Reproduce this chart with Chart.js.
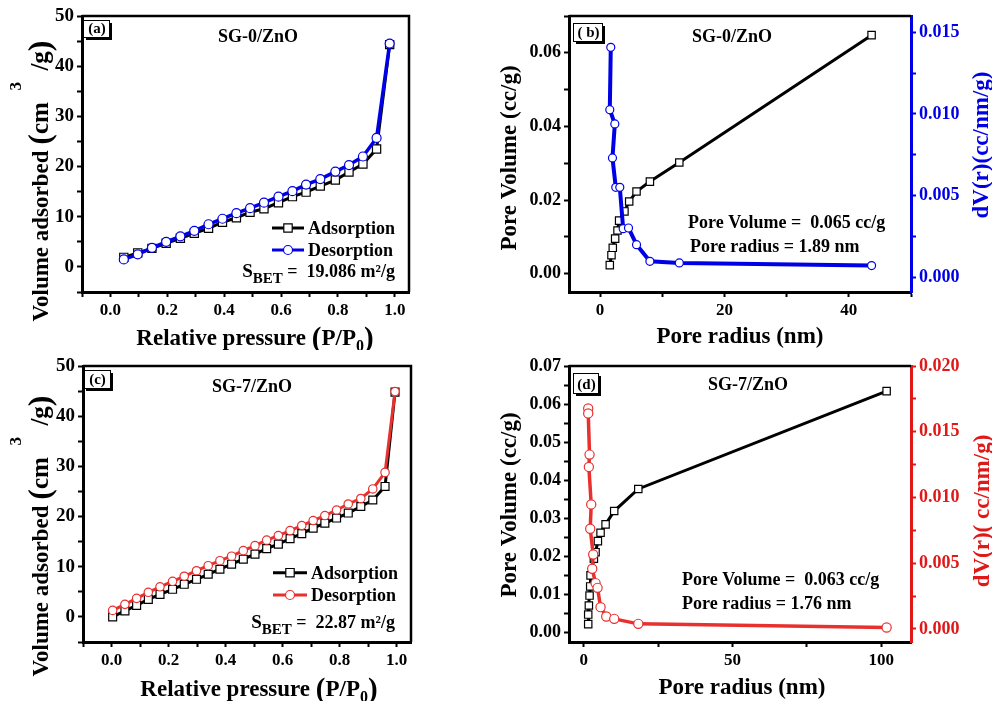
<!DOCTYPE html>
<html>
<head>
<meta charset="utf-8">
<script src="https://cdn.jsdelivr.net/npm/chart.js@4.4.1/dist/chart.umd.min.js"></script>
<style>
  body { margin: 0; background: #fff; }
  #page { position: relative; width: 992px; height: 701px; overflow: hidden; }
  canvas { position: absolute; }
</style>
</head>
<body>
<div id="page">
  <canvas id="chart-a" width="496" height="350" style="left:0px;top:0px"></canvas>
  <canvas id="chart-b" width="496" height="350" style="left:496px;top:0px"></canvas>
  <canvas id="chart-c" width="496" height="351" style="left:0px;top:350px"></canvas>
  <canvas id="chart-d" width="496" height="351" style="left:496px;top:350px"></canvas>
</div>
<script>
// panel a : SG-0/ZnO isotherm
var pressA = [0.047, 0.096, 0.146, 0.196, 0.246, 0.295, 0.345, 0.394, 0.443, 0.491, 0.540, 0.591, 0.640, 0.688, 0.738, 0.791, 0.839, 0.888, 0.936, 0.982];
var adsA = [1.9, 2.8, 3.7, 4.7, 5.7, 6.7, 7.7, 8.9, 9.8, 10.9, 11.6, 12.8, 14.0, 14.9, 16.1, 17.3, 18.9, 20.5, 23.5, 44.3];
var desA = [1.5, 2.5, 3.8, 5.0, 6.1, 7.2, 8.5, 9.6, 10.7, 11.7, 12.8, 14.0, 15.1, 16.4, 17.5, 19.0, 20.3, 22.0, 25.7, 44.5];

// panel b : SG-0/ZnO pore size
var radiusVolB = [1.56, 1.83, 2.04, 2.42, 2.80, 3.06, 3.92, 4.68, 5.86, 8.01, 12.74, 43.66];
var poreVolB = [0.0023, 0.0050, 0.0070, 0.0095, 0.0117, 0.0144, 0.0169, 0.0196, 0.0223, 0.0250, 0.0302, 0.0648];
var radiusDvB = [1.72, 1.56, 2.37, 1.99, 2.52, 3.17, 3.71, 4.57, 5.86, 8.01, 12.74, 43.66];
var dvB = [0.01408, 0.01026, 0.00939, 0.00731, 0.00551, 0.00551, 0.00298, 0.00302, 0.00200, 0.00098, 0.00088, 0.00072];

// panel c : SG-7/ZnO isotherm
var pressC = [0.004, 0.047, 0.088, 0.129, 0.170, 0.214, 0.255, 0.298, 0.339, 0.380, 0.421, 0.462, 0.503, 0.544, 0.585, 0.626, 0.667, 0.707, 0.748, 0.789, 0.830, 0.874, 0.916, 0.959, 0.994];
var adsC = [0.0, 1.2, 2.3, 3.5, 4.5, 5.5, 6.5, 7.5, 8.5, 9.5, 10.5, 11.5, 12.5, 13.6, 14.5, 15.6, 16.6, 17.7, 18.7, 19.7, 20.7, 22.0, 23.3, 26.0, 44.8];
var desC = [1.3, 2.5, 3.7, 4.9, 6.0, 7.1, 8.1, 9.2, 10.2, 11.2, 12.1, 13.2, 14.2, 15.3, 16.2, 17.2, 18.2, 19.2, 20.2, 21.3, 22.5, 23.6, 25.5, 28.8, 44.9];

// panel d : SG-7/ZnO pore size
var radiusVolD = [1.46, 1.46, 1.68, 1.91, 2.13, 2.24, 3.37, 3.93, 4.71, 5.61, 7.30, 10.2, 18.3, 101.8];
var poreVolD = [0.0022, 0.0047, 0.0071, 0.0097, 0.0121, 0.0150, 0.0194, 0.0211, 0.0240, 0.0262, 0.0284, 0.0319, 0.0377, 0.0634];
var radiusDvD = [1.46, 1.46, 1.91, 1.68, 2.47, 2.13, 3.14, 2.80, 3.93, 4.60, 5.61, 7.52, 10.2, 18.3, 101.8];
var dvD = [0.01677, 0.01639, 0.01326, 0.01232, 0.00947, 0.00762, 0.00566, 0.00457, 0.00348, 0.00312, 0.00165, 0.00094, 0.00076, 0.00038, 0.00010];

// tick labels
var pressureTicks = [0, 0.2, 0.4, 0.6, 0.8, 1.0];
var volumeTicks = [0, 10, 20, 30, 40, 50];
var radiusTicksB = [0, 20, 40];
var poreVolTicksB = [0, 0.02, 0.04, 0.06];
var dvTicksB = [0, 0.005, 0.010, 0.015];
var radiusTicksD = [0, 50, 100];
var poreVolTicksD = [0, 0.01, 0.02, 0.03, 0.04, 0.05, 0.06, 0.07];
var dvTicksD = [0, 0.005, 0.010, 0.015, 0.020];

var serif = '"Liberation Serif", "Times New Roman", serif';
var BLUE = '#0000e6';
var RED = '#e8312f';
var RED_TXT = '#e01818';

function pts(xs, ys) {
    return xs.map(function (x, i) { return { x: x, y: ys[i] }; });
}

function tickLabels(list, digits) {
    return function (v) {
        for (var i = 0; i < list.length; i++) {
            if (Math.abs(v - list[i]) < 1e-7) return list[i].toFixed(digits);
        }
        return '';
    };
}

function axis(pos, min, max, step, labels, digits, size, color, fontSize) {
    return {
        type: 'linear',
        position: pos,
        min: min,
        max: max,
        ticks: {
            stepSize: step, autoSkip: false, maxRotation: 0, includeBounds: false, padding: 3,
            color: color, font: { family: serif, size: fontSize || 18, weight: 'bold' },
            callback: tickLabels(labels, digits)
        },
        grid: { drawOnChartArea: false, drawTicks: true, tickLength: 5, tickWidth: 2, tickColor: color },
        border: { display: true, color: color, width: 3 },
        afterFit: function (s) {
            if (s.isHorizontal()) s.height = size; else s.width = size;
        }
    };
}

function lineSet(data, color, shape, radius, width, order, axisId) {
    return {
        data: data, showLine: true, borderColor: color, borderWidth: width, tension: 0,
        pointStyle: shape, pointRadius: radius, pointHoverRadius: radius,
        pointBackgroundColor: '#fff', pointBorderColor: shape === 'rect' ? '#000' : color,
        pointBorderWidth: 1.2, order: order, yAxisID: axisId || 'y'
    };
}

function drawParts(ctx, parts, x, y, align, color) {
    var total = 0;
    parts.forEach(function (p) {
        ctx.font = 'bold ' + p[1] + 'px ' + serif;
        total += ctx.measureText(p[0]).width;
    });
    var cx = align === 'center' ? x - total / 2 : (align === 'right' ? x - total : x);
    ctx.textAlign = 'left';
    ctx.textBaseline = 'alphabetic';
    ctx.fillStyle = color || '#000';
    parts.forEach(function (p) {
        ctx.font = 'bold ' + p[1] + 'px ' + serif;
        ctx.fillText(p[0], cx, y + (p[2] || 0));
        cx += ctx.measureText(p[0]).width;
    });
}

function drawRotated(ctx, parts, bx, cy, color) {
    ctx.save();
    ctx.translate(bx, cy);
    ctx.rotate(-Math.PI / 2);
    drawParts(ctx, parts, 0, 0, 'center', color);
    ctx.restore();
}

function marker(ctx, shape, x, y, s, color) {
    ctx.fillStyle = '#fff';
    ctx.strokeStyle = shape === 'rect' ? '#000' : color;
    ctx.lineWidth = 1.2;
    ctx.beginPath();
    if (shape === 'rect') ctx.rect(x - s, y - s, 2 * s, 2 * s);
    else ctx.arc(x, y, s, 0, 2 * Math.PI);
    ctx.fill();
    ctx.stroke();
}

function drawTag(ctx, t) {
    ctx.fillStyle = '#000';
    ctx.fillRect(t.x + t.w, t.y + 3, 3, t.h);
    ctx.fillRect(t.x + 3, t.y + t.h, t.w, 3);
    ctx.strokeStyle = '#000';
    ctx.lineWidth = 1;
    ctx.strokeRect(t.x + 0.5, t.y + 0.5, t.w, t.h);
    drawParts(ctx, [[t.text, 15]], t.x + t.w / 2 + 1, t.y + t.h - 4, 'center');
}

function decor(spec) {
    return {
        id: 'decor',
        afterDraw: function (chart) {
            var ctx = chart.ctx, a = chart.chartArea;
            ctx.save();
            ctx.strokeStyle = '#000';
            ctx.lineWidth = 2.5;
            ctx.beginPath();
            ctx.moveTo(a.left, a.top);
            ctx.lineTo(a.right, a.top);
            if (!spec.rightAxis) ctx.lineTo(a.right, a.bottom);
            ctx.stroke();

            drawTag(ctx, spec.tag);
            drawParts(ctx, [[spec.title, 18]], spec.titleX, spec.titleY, 'center');

            (spec.legend || []).forEach(function (r) {
                ctx.strokeStyle = r.color;
                ctx.lineWidth = 3;
                ctx.beginPath();
                ctx.moveTo(r.x0, r.y);
                ctx.lineTo(r.x1, r.y);
                ctx.stroke();
                marker(ctx, r.shape, (r.x0 + r.x1) / 2, r.y, r.size, r.color);
                drawParts(ctx, [[r.label, 18]], r.x1 + 4, r.y + 6, 'left');
            });
            (spec.notes || []).forEach(function (n) {
                drawParts(ctx, n.parts, n.x, n.y, n.align);
            });

            drawParts(ctx, spec.xTitle.parts, spec.xTitle.x, spec.xTitle.y, 'center');
            drawRotated(ctx, spec.yTitle.parts, spec.yTitle.x, spec.yTitle.y, '#000');
            if (spec.y1Title) drawRotated(ctx, spec.y1Title.parts, spec.y1Title.x, spec.y1Title.y, spec.y1Title.color);
            ctx.restore();
        }
    };
}

function baseOptions(padding, scales) {
    return {
        responsive: false,
        animation: false,
        devicePixelRatio: 1,
        layout: { padding: padding },
        plugins: { legend: { display: false }, tooltip: { enabled: false } },
        scales: scales
    };
}

// left title of the isotherm panels, with big brackets and a raised 3
var volumeTitle = [['Volume adsorbed ', 23], ['(', 32, 2], ['cm', 25], ['  ', 23], ['3', 17, -27], ['  ', 23], ['/g', 25], [')', 32, 2]];
var pressureTitle = [['Relative pressure ', 23], ['(', 29, 2], ['P/P', 23], ['0', 16, 6], [')', 29, 2]];

// panel a
new Chart(document.getElementById('chart-a'), {
    type: 'scatter',
    data: {
        datasets: [
            lineSet(pts(pressA, adsA), '#000', 'rect', 5.8, 3, 1),
            lineSet(pts(pressA, desA), BLUE, 'circle', 4.5, 3.5, 0)
        ]
    },
    options: baseOptions({ left: 0, top: 16, right: 87, bottom: 18 }, {
        x: axis('bottom', -0.1, 1.05, 0.1, pressureTicks, 1, 40, '#000', 17),
        y: axis('left', -5, 50, 5, volumeTicks, 0, 82, '#000', 19)
    }),
    plugins: [decor({
        tag: { x: 83, y: 20, w: 26, h: 17, text: '(a)' },
        title: 'SG-0/ZnO', titleX: 258, titleY: 41.5,
        legend: [
            { label: 'Adsorption', y: 228, x0: 272, x1: 304, shape: 'rect', size: 4.2, color: '#000' },
            { label: 'Desorption', y: 250, x0: 272, x1: 304, shape: 'circle', size: 4.5, color: BLUE }
        ],
        notes: [
            { parts: [['S', 19], ['BET', 15, 6], [' =  19.086 m\u00b2/g', 18]], x: 395, y: 277, align: 'right' }
        ],
        xTitle: { parts: pressureTitle, x: 255, y: 345 },
        yTitle: { parts: volumeTitle, x: 48, y: 181 }
    })]
});

// panel b
new Chart(document.getElementById('chart-b'), {
    type: 'scatter',
    data: {
        datasets: [
            lineSet(pts(radiusVolB, poreVolB), '#000', 'rect', 5.2, 3, 1, 'y'),
            lineSet(pts(radiusDvB, dvB), BLUE, 'circle', 4, 4, 0, 'y1')
        ]
    },
    options: baseOptions({ left: 0, top: 16, right: 0, bottom: 18 }, {
        x: axis('bottom', -5, 50, 10, radiusTicksB, 0, 40, '#000', 17),
        y: axis('left', -0.005, 0.07, 0.01, poreVolTicksB, 2, 73, '#000', 18),
        y1: axis('right', -0.0009, 0.016, 0.0025, dvTicksB, 3, 81, BLUE, 18)
    }),
    plugins: [decor({
        rightAxis: true,
        tag: { x: 77, y: 23, w: 29, h: 18, text: '( b)' },
        title: 'SG-0/ZnO', titleX: 236, titleY: 41.5,
        notes: [
            { parts: [['Pore Volume =  0.065 cc/g', 18]], x: 192, y: 228, align: 'left' },
            { parts: [['Pore radius = 1.89 nm', 18]], x: 194, y: 251.5, align: 'left' }
        ],
        xTitle: { parts: [['Pore radius (nm)', 23]], x: 244, y: 343 },
        yTitle: { parts: [['Pore Volume (cc/g)', 23]], x: 20, y: 158 },
        y1Title: { parts: [['dV(r)(cc/nm/g)', 23]], x: 492, y: 145, color: BLUE }
    })]
});

// panel c
new Chart(document.getElementById('chart-c'), {
    type: 'scatter',
    data: {
        datasets: [
            lineSet(pts(pressC, adsC), '#000', 'rect', 5.6, 3, 1),
            lineSet(pts(pressC, desC), RED, 'circle', 4.2, 3, 0)
        ]
    },
    options: baseOptions({ left: 0, top: 16, right: 85, bottom: 19 }, {
        x: axis('bottom', -0.1, 1.05, 0.1, pressureTicks, 1, 40, '#000', 17),
        y: axis('left', -5, 50, 5, volumeTicks, 0, 83, '#000', 19)
    }),
    plugins: [decor({
        tag: { x: 83, y: 20, w: 27, h: 18, text: '(c)' },
        title: 'SG-7/ZnO', titleX: 252, titleY: 41.5,
        legend: [
            { label: 'Adsorption', y: 222.7, x0: 273, x1: 307, shape: 'rect', size: 4.2, color: '#000' },
            { label: 'Desorption', y: 245, x0: 273, x1: 307, shape: 'circle', size: 4.5, color: RED }
        ],
        notes: [
            { parts: [['S', 19], ['BET', 15, 6], [' =  22.87 m\u00b2/g', 18]], x: 395, y: 278, align: 'right' }
        ],
        xTitle: { parts: pressureTitle, x: 259, y: 346 },
        yTitle: { parts: volumeTitle, x: 48, y: 186 }
    })]
});

// panel d
new Chart(document.getElementById('chart-d'), {
    type: 'scatter',
    data: {
        datasets: [
            lineSet(pts(radiusVolD, poreVolD), '#000', 'rect', 5.2, 3, 1, 'y'),
            lineSet(pts(radiusDvD, dvD), RED, 'circle', 4.6, 3.5, 0, 'y1')
        ]
    },
    options: baseOptions({ left: 0, top: 16, right: 0, bottom: 19 }, {
        x: axis('bottom', -5, 110, 25, radiusTicksD, 0, 40, '#000', 17),
        y: axis('left', -0.0025, 0.07, 0.005, poreVolTicksD, 2, 73, '#000', 18),
        y1: axis('right', -0.001, 0.02, 0.0025, dvTicksD, 3, 81, RED_TXT, 18)
    }),
    plugins: [decor({
        rightAxis: true,
        tag: { x: 77, y: 23, w: 25, h: 20, text: '(d)' },
        title: 'SG-7/ZnO', titleX: 252, titleY: 40,
        notes: [
            { parts: [['Pore Volume =  0.063 cc/g', 18]], x: 186, y: 235, align: 'left' },
            { parts: [['Pore radius = 1.76 nm', 18]], x: 186, y: 259, align: 'left' }
        ],
        xTitle: { parts: [['Pore radius (nm)', 23]], x: 246, y: 344 },
        yTitle: { parts: [['Pore Volume (cc/g)', 23]], x: 20, y: 155 },
        y1Title: { parts: [['dV(r)( cc/nm/g)', 23]], x: 493, y: 161, color: RED_TXT }
    })]
});
</script>
</body>
</html>
